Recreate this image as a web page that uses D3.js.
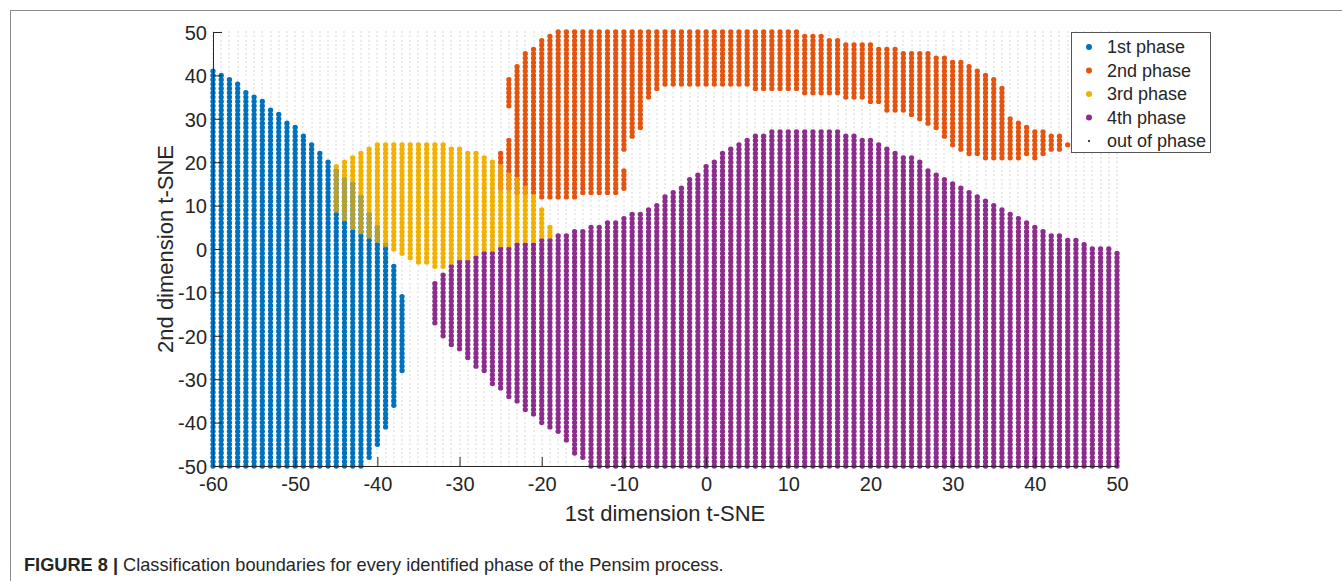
<!DOCTYPE html>
<html>
<head>
<meta charset="utf-8">
<script src="https://cdn.jsdelivr.net/npm/d3@7"></script>
<style>
  html, body { margin: 0; padding: 0; background: #fff; }
  svg text { font-family: "Liberation Sans", Arial, Helvetica, sans-serif; fill: #262626; }
</style>
</head>
<body>
<svg id="chart" width="1342" height="581"></svg>
<script>
// Axis ticks
const xTicks = [-60, -50, -40, -30, -20, -10, 0, 10, 20, 30, 40, 50];
const yTicks = [-50, -40, -30, -20, -10, 0, 10, 20, 30, 40, 50];

// Evaluation lattice of the t-SNE plane (step 1 in both dimensions)
const gridX = d3.range(-60, 51, 1);
const gridY = d3.range(-50, 51, 1);

const seriesNames = ["1st phase", "2nd phase", "3rd phase", "4th phase", "out of phase"];
const seriesColors = ["#0072BD", "#E4540F", "#F2B100", "#8C2C8C"];

// Classified lattice columns: [x, lowest y, highest y]
const phase1Runs = [
  [-60,-50,41],[-59,-50,40],[-58,-50,39],[-57,-50,38],[-56,-50,36],[-55,-50,35],
  [-54,-50,34],[-53,-50,32],[-52,-50,31],[-51,-50,29],[-50,-50,28],[-49,-50,26],
  [-48,-50,24],[-47,-50,22],[-46,-50,20],[-45,-50,18],[-44,-50,16],[-43,-50,15],
  [-42,-50,12],[-41,-48,8],[-40,-45,5],[-39,-41,1],[-38,-36,-4],[-37,-28,-11]
];

const phase2Runs = [
  [-25,14,22],[-24,33,39],[-24,14,25],[-23,13,42],[-22,13,45],[-21,13,46],
  [-20,12,48],[-19,12,49],[-18,12,50],[-17,12,50],[-16,12,50],[-15,13,50],
  [-14,13,50],[-13,13,50],[-12,13,50],[-11,13,50],[-10,23,50],[-10,14,18],
  [-9,26,50],[-8,28,50],[-7,35,50],[-6,37,50],[-5,38,50],[-4,38,50],[-3,38,50],
  [-2,38,50],[-1,38,50],[0,38,50],[1,38,50],[2,38,50],[3,38,50],[4,38,50],
  [5,38,50],[6,37,50],[7,37,50],[8,37,50],[9,37,50],[10,37,50],[11,37,50],
  [12,36,49],[13,36,49],[14,36,49],[15,36,48],[16,36,48],[17,35,47],[18,35,47],
  [19,35,47],[20,34,47],[21,34,46],[22,32,46],[23,32,46],[24,32,45],[25,31,45],
  [26,30,45],[27,29,45],[28,28,44],[29,26,44],[30,24,43],[31,23,43],[32,22,42],
  [33,22,41],[34,21,40],[35,21,39],[36,21,37],[37,21,30],[38,21,29],[39,22,28],
  [40,21,27],[41,22,27],[42,23,26],[43,23,26],[44,24,24]
];

const phase3Runs = [
  [-45,9,19],[-44,7,20],[-43,5,21],[-42,4,22],[-41,3,23],[-40,2,24],[-39,1,24],
  [-38,0,24],[-37,-1,24],[-36,-2,24],[-35,-3,24],[-34,-3,24],[-33,-4,24],
  [-32,-4,24],[-31,-3,23],[-30,-2,23],[-29,-2,22],[-28,-1,22],[-27,0,21],
  [-26,0,20],[-25,1,19],[-24,1,17],[-23,2,16],[-22,2,14],[-21,2,12],[-20,3,9],
  [-19,3,5]
];

const phase4Runs = [
  [-33,-17,-8],[-32,-20,-6],[-31,-22,-4],[-30,-23,-3],[-29,-25,-3],[-28,-27,-2],
  [-27,-28,-1],[-26,-31,-1],[-25,-32,0],[-24,-34,0],[-23,-35,1],[-22,-37,1],
  [-21,-38,1],[-20,-40,2],[-19,-41,2],[-18,-42,3],[-17,-44,3],[-16,-47,4],
  [-15,-48,4],[-14,-50,5],[-13,-50,5],[-12,-50,6],[-11,-50,6],[-10,-50,7],
  [-9,-50,8],[-8,-50,8],[-7,-50,9],[-6,-50,10],[-5,-50,12],[-4,-50,13],
  [-3,-50,14],[-2,-50,16],[-1,-50,17],[0,-50,19],[1,-50,20],[2,-50,22],
  [3,-50,23],[4,-50,24],[5,-50,25],[6,-50,26],[7,-50,26],[8,-50,27],[9,-50,27],
  [10,-50,27],[11,-50,27],[12,-50,27],[13,-50,27],[14,-50,27],[15,-50,27],
  [16,-50,27],[17,-50,26],[18,-50,26],[19,-50,25],[20,-50,25],[21,-50,24],
  [22,-50,23],[23,-50,22],[24,-50,21],[25,-50,21],[26,-50,20],[27,-50,18],
  [28,-50,17],[29,-50,16],[30,-50,15],[31,-50,14],[32,-50,13],[33,-50,12],
  [34,-50,11],[35,-50,10],[36,-50,9],[37,-50,8],[38,-50,7],[39,-50,6],
  [40,-50,5],[41,-50,4],[42,-50,3],[43,-50,3],[44,-50,2],[45,-50,2],[46,-50,1],
  [47,-50,0],[48,-50,0],[49,-50,0],[50,-50,-1]
];

// ---------------------------------------------------------------------------
const svg = d3.select("#chart");
const W = 1342, H = 581;
const plot = { left: 213, right: 1117, top: 32, bottom: 466 };

const x = d3.scaleLinear().domain([-60, 50]).range([plot.left, plot.right]);
const y = d3.scaleLinear().domain([-50, 50]).range([plot.bottom, plot.top]);

const expand = runs => runs.flatMap(([cx, lo, hi]) =>
  d3.range(lo, hi + 1).map(cy => ({ x: cx, y: cy })));

const phases = [phase1Runs, phase2Runs, phase3Runs, phase4Runs].map(expand);
const key = d => d.x + "," + d.y;

// Figure frame
svg.append("line").attr("x1", 10).attr("x2", W).attr("y1", 10.5).attr("y2", 10.5)
  .attr("stroke", "#8c8c8c").attr("stroke-width", 1);
svg.append("line").attr("x1", 10.5).attr("x2", 10.5).attr("y1", 10).attr("y2", H)
  .attr("stroke", "#8c8c8c").attr("stroke-width", 1);

// Out-of-phase lattice
const lattice = gridX.flatMap(gx => gridY.map(gy => ({ x: gx, y: gy })));
svg.append("g").attr("class", "out-of-phase")
  .selectAll("rect").data(lattice).join("rect")
  .attr("x", d => Math.round(x(d.x)) - 0.5)
  .attr("y", d => Math.round(y(d.y)) - 0.5)
  .attr("width", 1).attr("height", 1)
  .attr("fill", "#b4b4b4");

const R = 2.65;
// Lower phases where the 3rd phase overlaps them
const underColor = new Map();
phases[0].forEach(d => underColor.set(key(d), seriesColors[0]));
phases[1].forEach(d => underColor.set(key(d), seriesColors[1]));

const drawOrder = [0, 1, 3, 2];
drawOrder.forEach(i => {
  svg.append("g").attr("class", "phase-" + (i + 1))
    .selectAll("circle").data(phases[i]).join("circle")
    .attr("cx", d => x(d.x))
    .attr("cy", d => y(d.y))
    .attr("r", R)
    .attr("fill", d => {
      if (i === 2 && underColor.has(key(d))) {
        return d3.interpolateRgb(seriesColors[2], underColor.get(key(d)))(0.25);
      }
      return seriesColors[i];
    });
});

// Axes (ticks pointing inward)
const xAxis = d3.axisBottom(x).tickValues(xTicks).tickSizeInner(-9).tickSizeOuter(0)
  .tickPadding(11).tickFormat(d3.format("d"));
const yAxis = d3.axisLeft(y).tickValues(yTicks).tickSizeInner(-9).tickSizeOuter(0)
  .tickPadding(6).tickFormat(d3.format("d"));

const fmtMinus = t => String(t).replace("\u2212", "-");

const gx = svg.append("g").attr("transform", `translate(0,${plot.bottom})`).call(xAxis);
const gy = svg.append("g").attr("transform", `translate(${plot.left},0)`).call(yAxis);
[gx, gy].forEach(g => {
  g.attr("font-size", null).attr("font-family", null);
  g.select(".domain").attr("stroke", "#262626").attr("stroke-width", 1);
  g.selectAll(".tick line").attr("stroke", "#262626").attr("stroke-width", 1);
  g.selectAll(".tick text").attr("fill", "#262626").style("font-size", "20px")
    .text(d => fmtMinus(d));
});
gy.selectAll(".tick text").attr("dy", "0.36em");

// Axis titles
svg.append("text")
  .attr("x", (plot.left + plot.right) / 2).attr("y", 521)
  .attr("text-anchor", "middle").style("font-size", "22px")
  .text("1st dimension t-SNE");
svg.append("text")
  .attr("transform", `translate(173,${(plot.top + plot.bottom) / 2}) rotate(-90)`)
  .attr("text-anchor", "middle").style("font-size", "22px")
  .text("2nd dimension t-SNE");

// Legend
const legend = svg.append("g").attr("class", "legend");
legend.append("rect").attr("x", 1071.5).attr("y", 32.5).attr("width", 139).attr("height", 120)
  .attr("fill", "#fff").attr("stroke", "#555").attr("stroke-width", 1);
seriesNames.forEach((name, i) => {
  const ly = 47 + i * 23.5;
  if (i < 4) {
    legend.append("circle").attr("cx", 1089).attr("cy", ly).attr("r", 3).attr("fill", seriesColors[i]);
  } else {
    legend.append("circle").attr("cx", 1089).attr("cy", ly).attr("r", 1).attr("fill", "#000");
  }
  legend.append("text").attr("x", 1107).attr("y", ly).attr("dy", "0.35em")
    .style("font-size", "18px").text(name);
});

// Caption
const cap = svg.append("text").attr("x", 24).attr("y", 571).style("font-size", "18.2px");
cap.append("tspan").style("font-weight", "bold").text("FIGURE 8 | ");
cap.append("tspan").text("Classification boundaries for every identified phase of the Pensim process.");
</script>
</body>
</html>
